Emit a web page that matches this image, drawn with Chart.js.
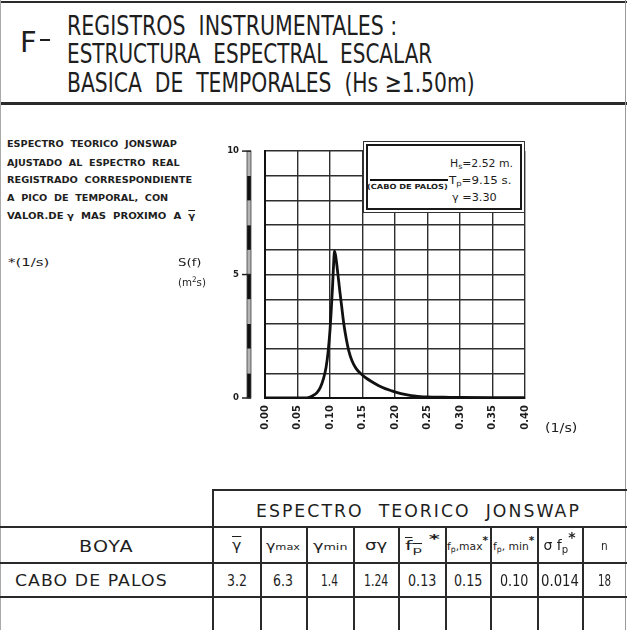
<!DOCTYPE html>
<html>
<head>
<meta charset="utf-8">
<title>Estructura espectral escalar básica de temporales</title>
<script src="https://cdn.jsdelivr.net/npm/chart.js@4.4.1/dist/chart.umd.min.js"></script>
<style>
  body { margin: 0; background: #fff; }
  #page { position: relative; width: 627px; height: 630px; overflow: hidden; background: #fff;
          color: #1e1e1e; font-family: "DejaVu Sans", sans-serif; }
  .t { position: absolute; white-space: pre; line-height: 1; transform-origin: 0 0; }
  .ln { position: absolute; background: #2a2a2a; }
  .sb { position: relative; top: 0.28em; font-size: 0.72em; line-height: 0; }
  .sm { font-size: 0.72em; }
  .ast { position: relative; top: -0.55em; font-weight: bold; line-height: 0; }
  .ov { text-decoration: overline; }
  #plot { position: absolute; left: 200px; top: 120px; }
  #legend { position: absolute; left: 363px; top: 141px; width: 160px; height: 70px;
            border: 1.5px solid #333; background: #fff; }
  #legend .inner { position: absolute; left: 2px; top: 2px; right: 2px; bottom: 2px;
                   border: 2.5px solid #1a1a1a; }
</style>
</head>
<body>
<div id="page">
  <canvas id="plot" width="380" height="330"></canvas>
  <div id="legend"><div class="inner"></div></div>
</div>
<script>
// Fitted JONSWAP spectrum, Cabo de Palos buoy, storm peak
const freq = [0.000, 0.050, 0.062, 0.068, 0.074, 0.080, 0.085, 0.090, 0.094, 0.097,
              0.100, 0.102, 0.104, 0.1055, 0.107, 0.109, 0.112, 0.115, 0.118, 0.121,
              0.125, 0.129, 0.134, 0.140, 0.148, 0.156, 0.165, 0.175, 0.185, 0.195,
              0.205, 0.215, 0.225, 0.235, 0.250, 0.275, 0.300, 0.350, 0.400];
const spectrum = [0.00, 0.00, 0.00, 0.03, 0.10, 0.22, 0.42, 0.78, 1.25, 1.85,
                  2.75, 3.60, 4.55, 5.40, 5.95, 5.70, 5.05, 4.35, 3.70, 3.05,
                  2.40, 1.90, 1.50, 1.20, 0.97, 0.80, 0.65, 0.50, 0.38, 0.29,
                  0.21, 0.15, 0.10, 0.07, 0.04, 0.03, 0.02, 0.01, 0.01];

// Axis labels
const xTickLabels = ['0.00', '0.05', '0.10', '0.15', '0.20', '0.25', '0.30', '0.35', '0.40'];
const yLabelledValues = [0, 5, 10];
const yTickLabels = ['0', '5', '10'];

// Legend parameters
const buoyName = '(CABO DE PALOS)';
const legendHs = '2.52 m.';
const legendTp = '9.15 s.';
const legendGamma = '3.30';

// Summary table
const tableTitle = 'ESPECTRO  TEORICO  JONSWAP';
const rowHeader = 'BOYA';
const buoys = ['CABO DE PALOS'];
const tableValues = [['3.2', '6.3', '1.4', '1.24', '0.13', '0.15', '0.10', '0.014', '18']];

const page = document.getElementById('page');

// Place a text block with its baseline at `base`, optionally squeezed to width `w`
function put(s) {
  const el = document.createElement('div');
  el.className = 't';
  el.innerHTML = s.html;
  el.style.fontSize = s.size + 'px';
  el.style.fontWeight = s.bold ? 'bold' : 'normal';
  if (s.ls) el.style.letterSpacing = s.ls + 'px';
  if (s.family) el.style.fontFamily = s.family;
  page.appendChild(el);
  const w = el.offsetWidth;
  const sx = s.w ? s.w / w : 1;
  const left = s.align === 'center' ? s.x - (w * sx) / 2 : s.x;
  el.style.left = left + 'px';
  el.style.top = (s.base - 0.846 * s.size) + 'px';
  el.style.transform = 'scaleX(' + sx + ')';
  if (s.z) el.style.zIndex = s.z;
  return el;
}
function line(x, y, w, h, color, z) {
  const d = document.createElement('div');
  d.className = 'ln';
  d.style.left = x + 'px'; d.style.top = y + 'px';
  d.style.width = w + 'px'; d.style.height = h + 'px';
  if (color) d.style.background = color;
  if (z) d.style.zIndex = z;
  page.appendChild(d);
}

// Sheet frame
line(0, 1, 627, 2);
line(0, 102, 627, 3);
line(0, 0, 1, 630, '#aaa');
line(625, 0, 1, 630, '#999');

// Heading
put({ html: 'F', x: 20, base: 53, size: 29, w: 17 });
line(40, 39, 10, 2, '#1e1e1e');
put({ html: 'REGISTROS  INSTRUMENTALES :', x: 67, base: 35, size: 27, w: 330 });
put({ html: 'ESTRUCTURA  ESPECTRAL  ESCALAR', x: 67, base: 63, size: 27, w: 365 });
put({ html: 'BASICA  DE  TEMPORALES  (Hs ≥1.50m)', x: 67, base: 92, size: 27, w: 408 });

// Notes beside the plot
put({ html: 'ESPECTRO  TEORICO  JONSWAP', x: 7, base: 148, size: 9, bold: true, w: 170 });
put({ html: 'AJUSTADO  AL  ESPECTRO  REAL', x: 7, base: 167, size: 9, bold: true, w: 173 });
put({ html: 'REGISTRADO  CORRESPONDIENTE', x: 7, base: 184, size: 9, bold: true, w: 185 });
put({ html: 'A  PICO  DE  TEMPORAL,  CON', x: 7, base: 202, size: 9, bold: true, w: 161 });
put({ html: 'VALOR.DE γ  MAS  PROXIMO  A  <span class="ov">γ</span>', x: 7, base: 220, size: 9, bold: true, w: 188 });
put({ html: '*(1/s)', x: 8, base: 266, size: 11, w: 42 });
put({ html: 'S(f)', x: 178, base: 266, size: 11, w: 23 });
put({ html: '(m<span style="font-size:0.7em;position:relative;top:-0.45em;line-height:0">2</span>s)', x: 178, base: 286, size: 11, w: 28 });
put({ html: '(1/s)', x: 545, base: 432, size: 12, w: 32 });

// Legend contents
line(370, 179, 78, 2, '#111', 5);
put({ html: buoyName, x: 367, base: 190, size: 7, bold: true, w: 81, z: 5 });
put({ html: 'H<span class="sb">s</span>=' + legendHs, x: 450, base: 167, size: 10.5, w: 63, z: 5 });
put({ html: 'T<span class="sb">p</span>=' + legendTp, x: 449, base: 184, size: 10.5, w: 63, z: 5 });
put({ html: 'γ =' + legendGamma, x: 452, base: 201, size: 10.5, w: 45, z: 5 });

// Summary table grid
const colEdges = [213, 260, 306, 353, 398, 445, 490, 537, 582, 627];
line(213, 489, 414, 2);
line(212, 489, 2, 141);
[526, 562, 596].forEach(function (y) { line(0, y, 627, 2); });
colEdges.slice(1, -1).forEach(function (x) { line(x, 526, 2, 104); });

put({ html: tableTitle, x: 418, base: 517, size: 17, ls: 2, w: 325, align: 'center' });
put({ html: rowHeader, x: 106, base: 553, size: 16, ls: 1, w: 55, align: 'center' });
buoys.forEach(function (b, r) {
  put({ html: b, x: 15, base: 587 + r * 34, size: 16, ls: 1, w: 153 });
});

const headCells = [
  { html: '<span class="ov">γ</span>', size: 14, w: 9 },
  { html: 'γ<span class="sm">max</span>', size: 13, w: 34 },
  { html: 'γ<span class="sm">min</span>', size: 13, w: 34 },
  { html: 'σγ', size: 14, w: 22 },
  { html: '<span class="ov">f<span class="sb">p</span></span> <span class="ast">*</span>', size: 13, w: 34 },
  { html: 'f<span class="sb">p</span>,max<span class="ast">*</span>', size: 11, w: 41 },
  { html: 'f<span class="sb">p</span>, min<span class="ast">*</span>', size: 11, w: 41 },
  { html: 'σ f<span class="sb">p</span><span class="ast">*</span>', size: 14, w: 32 },
  { html: 'n', size: 12, w: 7 }
];
headCells.forEach(function (c, i) {
  const cx = (colEdges[i] + colEdges[i + 1]) / 2;
  put({ html: c.html, x: cx, base: 550, size: c.size, w: c.w, align: 'center' });
});
const valueWidths = [20, 20, 17, 24, 28, 28, 28, 38, 13];
tableValues.forEach(function (row, r) {
  row.forEach(function (v, i) {
    const cx = (colEdges[i] + colEdges[i + 1]) / 2;
    put({ html: v, x: cx, base: 587 + r * 34, size: 15, w: valueWidths[i], align: 'center' });
  });
});

// Alternating black/grey scale bar beside the S(f) axis
const scaleBar = {
  id: 'scaleBar',
  afterDraw(chart) {
    const ctx = chart.ctx, ys = chart.scales.y, left = chart.chartArea.left;
    const bx = left - 18, bw = 4;
    ctx.save();
    for (let i = 0; i < 10; i++) {
      const y0 = ys.getPixelForValue(i), y1 = ys.getPixelForValue(i + 1);
      ctx.fillStyle = i % 2 === 0 ? '#111' : '#b4b4b4';
      ctx.fillRect(bx, y1, bw, y0 - y1);
    }
    ctx.strokeStyle = '#444';
    ctx.lineWidth = 0.8;
    ctx.strokeRect(bx, ys.getPixelForValue(10), bw, ys.getPixelForValue(0) - ys.getPixelForValue(10));
    ctx.strokeStyle = '#222';
    ctx.lineWidth = 1.5;
    yLabelledValues.forEach(function (v) {
      const y = ys.getPixelForValue(v);
      ctx.beginPath(); ctx.moveTo(bx - 5, y); ctx.lineTo(bx + bw, y); ctx.stroke();
    });
    ctx.restore();
  }
};

new Chart(document.getElementById('plot'), {
  type: 'line',
  data: {
    datasets: [{
      label: buoyName,
      data: freq.map(function (f, i) { return { x: f, y: spectrum[i] }; }),
      borderColor: '#111',
      borderWidth: 2.8,
      pointRadius: 0,
      cubicInterpolationMode: 'monotone',
      fill: false
    }]
  },
  options: {
    responsive: false,
    animation: false,
    devicePixelRatio: 1,
    layout: { padding: { top: 18, right: 55, left: 0, bottom: 0 } },
    plugins: { legend: { display: false }, tooltip: { enabled: false } },
    scales: {
      x: {
        type: 'linear', min: 0, max: 0.4,
        afterFit: function (s) { s.height = 52; },
        grid: { color: '#2e2e2e', lineWidth: 1.4, drawTicks: false },
        border: { display: true, color: '#111', width: 2 },
        ticks: {
          stepSize: 0.05, autoSkip: false, minRotation: 90, maxRotation: 90, padding: 7,
          color: '#1e1e1e', font: { family: 'DejaVu Sans', size: 10, weight: 'bold' },
          callback: function (v, i) { return xTickLabels[i]; }
        }
      },
      y: {
        type: 'linear', min: 0, max: 10,
        afterFit: function (s) { s.width = 65; },
        grid: { color: '#2e2e2e', lineWidth: 1.4, drawTicks: false },
        border: { display: true, color: '#111', width: 2 },
        ticks: {
          stepSize: 1, autoSkip: false, padding: 26,
          color: '#1e1e1e', font: { family: 'DejaVu Sans', size: 8.5, weight: 'bold' },
          callback: function (v) {
            const k = yLabelledValues.indexOf(v);
            return k >= 0 ? yTickLabels[k] : '';
          }
        }
      }
    }
  },
  plugins: [scaleBar]
});
</script>
</body>
</html>
